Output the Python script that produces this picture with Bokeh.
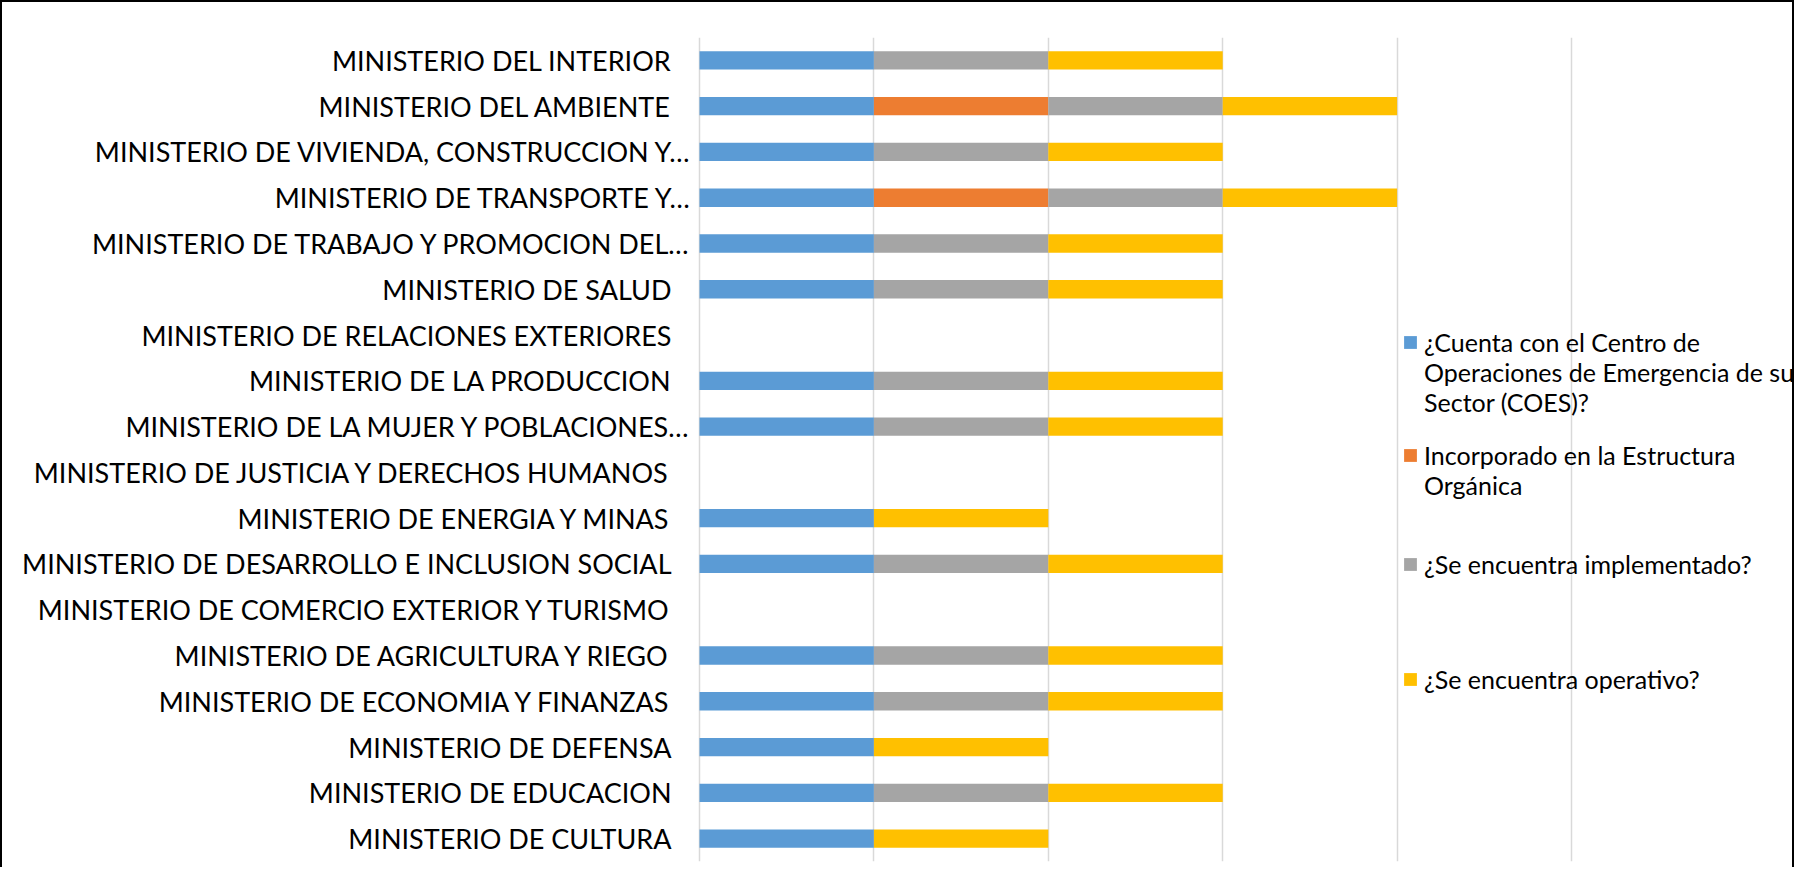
from bokeh.plotting import figure
from bokeh.models import FactorRange, Range1d, FixedTicker, Legend, LegendItem, ColumnDataSource
from bokeh.core.properties import value
from bokeh.embed import file_html
from bokeh.resources import INLINE

# Categories, top to bottom as shown in the chart
categories = [
    "MINISTERIO DEL INTERIOR",
    "MINISTERIO DEL AMBIENTE",
    "MINISTERIO DE VIVIENDA, CONSTRUCCION Y…",
    "MINISTERIO DE TRANSPORTE Y…",
    "MINISTERIO DE TRABAJO Y PROMOCION DEL…",
    "MINISTERIO DE SALUD",
    "MINISTERIO DE RELACIONES EXTERIORES",
    "MINISTERIO DE LA PRODUCCION",
    "MINISTERIO DE LA MUJER Y POBLACIONES…",
    "MINISTERIO DE JUSTICIA Y DERECHOS HUMANOS",
    "MINISTERIO DE ENERGIA Y MINAS",
    "MINISTERIO DE DESARROLLO E INCLUSION SOCIAL",
    "MINISTERIO DE COMERCIO EXTERIOR Y TURISMO",
    "MINISTERIO DE AGRICULTURA Y RIEGO",
    "MINISTERIO DE ECONOMIA Y FINANZAS",
    "MINISTERIO DE DEFENSA",
    "MINISTERIO DE EDUCACION",
    "MINISTERIO DE CULTURA",
]
coes         = [1, 1, 1, 1, 1, 1, 0, 1, 1, 0, 1, 1, 0, 1, 1, 1, 1, 1]
estructura   = [0, 1, 0, 1, 0, 0, 0, 0, 0, 0, 0, 0, 0, 0, 0, 0, 0, 0]
implementado = [1, 1, 1, 1, 1, 1, 0, 1, 1, 0, 0, 1, 0, 1, 1, 0, 1, 0]
operativo    = [1, 1, 1, 1, 1, 1, 0, 1, 1, 0, 1, 1, 0, 1, 1, 1, 1, 1]

series_labels = [
    ["¿Cuenta con el Centro de", "Operaciones de Emergencia de su", "Sector (COES)?"],
    ["Incorporado en la Estructura", "Orgánica"],
    ["¿Se encuentra implementado?"],
    ["¿Se encuentra operativo?"],
]
series_keys = ["coes", "estructura", "implementado", "operativo"]
colors = ["#5B9BD5", "#ED7D31", "#A5A5A5", "#FFC000"]
x_ticks = [0, 1, 2, 3, 4, 5]

FONT = "Lato"

# Excel keeps a trailing blank after untruncated labels, so they sit further from the axis
label_offset = [-8 if c.endswith("…") else -28 for c in categories]

source = ColumnDataSource(dict(cat=categories, coes=coes, estructura=estructura,
                               implementado=implementado, operativo=operativo,
                               zero=[0] * len(categories), off=label_offset))

W, H = 1794, 867
AXIS_PX, TOP, FRAME_H = 697, 35, 824
UNIT = (W - AXIS_PX) / 6.29
p = figure(
    width=W, height=H,
    y_range=FactorRange(factors=categories[::-1], range_padding=0),
    x_range=Range1d(-AXIS_PX / UNIT, 6.29),
    x_axis_location=None, y_axis_location=None,
    toolbar_location=None,
    output_backend="svg",
    min_border_left=0, min_border_right=0,
    min_border_top=TOP, min_border_bottom=H - TOP - FRAME_H,
)
p.styles = {"border-top": "2px solid #000", "border-left": "2px solid #000",
            "border-right": "2px solid #000", "box-sizing": "border-box"}
p.outline_line_color = None
p.background_fill_color = "white"
p.border_fill_color = "white"

renderers = p.hbar_stack(series_keys, y="cat", height=0.4, color=colors,
                         line_color=None, source=source)
dummy = p.hbar(y=[], right=[], height=0.4, fill_alpha=0, line_alpha=0)

# category labels, right-aligned against the category axis
p.text(x="zero", y="cat", text="cat", x_offset="off", source=source,
       text_align="right", text_baseline="middle",
       text_font=value(FONT), text_font_size="27px", text_color="#000000")

p.xgrid.ticker = FixedTicker(ticks=x_ticks)
p.xgrid.grid_line_color = "#d9d9d9"
p.xgrid.grid_line_width = 1.5
p.ygrid.grid_line_color = None

leg_pos = [(AXIS_PX + 703, 444), (AXIS_PX + 703, 361), (AXIS_PX + 703, 282), (AXIS_PX + 703, 167)]
for r, lines, pos in zip(renderers, series_labels, leg_pos):
    items = [LegendItem(label=lines[0], renderers=[r])]
    items += [LegendItem(label=ln, renderers=[dummy]) for ln in lines[1:]]
    leg = Legend(items=items, location=pos,
                 padding=0, margin=0, border_line_color=None,
                 background_fill_alpha=0, glyph_width=16, glyph_height=16,
                 label_standoff=6, spacing=-2, label_height=16,
                 label_text_font=FONT, label_text_font_size="25px",
                 label_text_color="#000000")
    p.add_layout(leg)

open("out.html", "w").write(file_html(p, INLINE))
